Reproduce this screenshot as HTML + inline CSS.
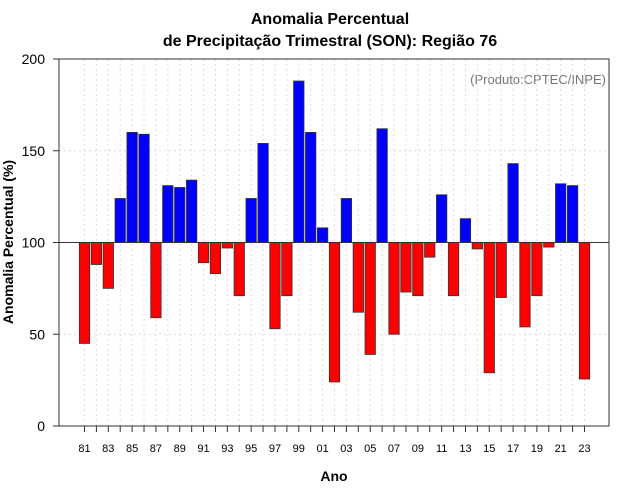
<!DOCTYPE html>
<html><head><meta charset="utf-8"><style>
body{margin:0;background:#fff}
svg{display:block;font-family:"Liberation Sans",sans-serif}
</style></head><body>
<svg id="chart" width="640" height="500">
<rect width="640" height="500" fill="#fff"/>
<text x="330" y="24" text-anchor="middle" font-size="16" font-weight="bold">Anomalia Percentual</text>
<text x="330" y="46" text-anchor="middle" font-size="16" font-weight="bold">de Precipitação Trimestral (SON): Região 76</text>
<text x="606" y="84" text-anchor="end" font-size="13" fill="#777">(Produto:CPTEC/INPE)</text>
<text x="334" y="481" text-anchor="middle" font-size="14" font-weight="bold">Ano</text>
<text transform="translate(13,242) rotate(-90)" text-anchor="middle" font-size="14" font-weight="bold">Anomalia Percentual (%)</text>
<g id="grid"></g><g id="bars"></g><g id="axes"></g>
</svg>
<script>
const years=[81,82,83,84,85,86,87,88,89,90,91,92,93,94,95,96,97,98,99,0,1,2,3,4,5,6,7,8,9,10,11,12,13,14,15,16,17,18,19,20,21,22,23];
const values=[45,88,75,124,160,159,59,131,130,134,89,83,97,71,124,154,53,71,188,160,108,24,124,62,39,162,50,73,71,92,126,71,113,96.5,29,70,143,54,71,97.5,132,131,25.6];
const yTicks=[0,50,100,150,200];
const NS='http://www.w3.org/2000/svg';
const L=59,R=609,T=59,B=426;
const x=i=>84.5+i*11.905;
const y=v=>B-(v/200)*(B-T);
function mk(tag,attrs,parent){const e=document.createElementNS(NS,tag);for(const k in attrs)e.setAttribute(k,attrs[k]);parent.appendChild(e);return e;}
const g=document.getElementById('grid'),b=document.getElementById('bars'),a=document.getElementById('axes');
years.forEach((yr,i)=>{
 const gl=mk('line',{x1:x(i),x2:x(i),y1:T,y2:B,stroke:'#ddd','stroke-dasharray':'2,3'},g);
 
 
});
yTicks.forEach(t=>{
 const gl=mk('line',{x1:L,x2:R,y1:y(t),y2:y(t),stroke:'#ddd','stroke-dasharray':'2,3'},g);
 
 
 const tk=mk('line',{x1:L-6,x2:L,y1:y(t),y2:y(t),stroke:'#333'},a);
 
 
 const tx=mk('text',{x:L-14,y:y(t)+5,'text-anchor':'end','font-size':'14'},a);
 tx.textContent=t;
 
 
});
values.forEach((v,i)=>{
 const top=Math.min(y(v),y(100)),h=Math.abs(y(v)-y(100));
 const r=mk('rect',{x:x(i)-5.2,y:top,width:10.4,height:h,fill:v>=100?'#0000ff':'#ff0000',stroke:'#333','stroke-width':'0.8'},b);
 
 
});
const base=mk('line',{x1:L,x2:R,y1:y(100),y2:y(100),stroke:'#333'},a);


const frame=mk('rect',{x:L,y:T,width:R-L,height:B-T,fill:'none',stroke:'#333'},a);


years.forEach((yr,i)=>{
 const tk=mk('line',{x1:x(i),x2:x(i),y1:B,y2:B+6,stroke:'#333'},a);
 
 
 if(i%2===0){
  const tx=mk('text',{x:x(i),y:452,'text-anchor':'middle','font-size':'11'},a);
  tx.textContent=String(yr).padStart(2,'0');
  
  
 }
});
</script>
</body></html>
